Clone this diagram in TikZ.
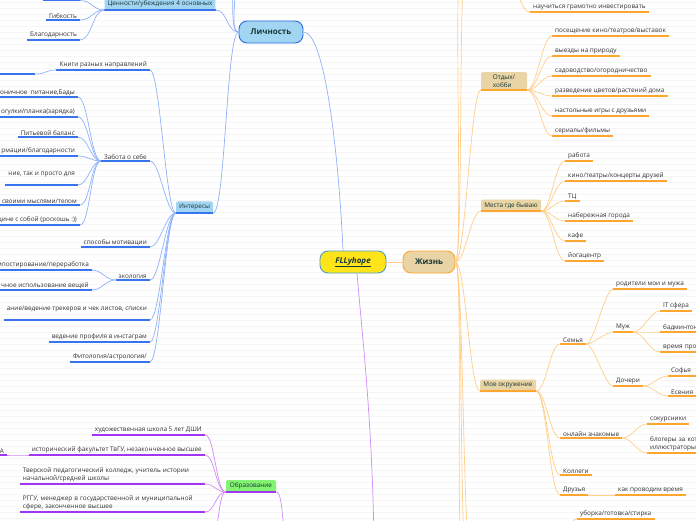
\documentclass[tikz,border=0pt]{standalone}
\usepackage{fontspec}
\setmainfont{Open Sans}
\usepackage{xcolor}
\usetikzlibrary{calc}
\definecolor{blueLine}{HTML}{3873F0}
\definecolor{blueLink}{HTML}{8FB2FA}
\definecolor{blueFill}{HTML}{A2D5F2}
\definecolor{blueEdge}{HTML}{2A6BE8}
\definecolor{purpleLine}{HTML}{A235F2}
\definecolor{purpleLink}{HTML}{D08CF8}
\definecolor{greenFill}{HTML}{84F272}
\definecolor{orangeLine}{HTML}{FFA62E}
\definecolor{orangeLink}{HTML}{FFCF8A}
\definecolor{tanFill}{HTML}{E8D4A4}
\definecolor{rootFill}{HTML}{FFE41A}
\definecolor{rootEdge}{HTML}{4A9BD0}
\definecolor{textColor}{HTML}{333333}
\definecolor{topicText}{HTML}{173636}

\begin{document}
\begin{tikzpicture}[x=1pt, y=-1pt,
    leaf/.style={inner xsep=3pt, inner ysep=1.6pt, text=textColor,
        font=\fontsize{6.4}{7.8}\selectfont,
        append after command={\pgfextra{\let\ulnode\tikzlastnode}
            (\ulnode.south west) edge[draw=#1, line width=1.8pt] (\ulnode.south east)}},
    leafB/.style={leaf=blueLine},
    leafP/.style={leaf=purpleLine},
    leafO/.style={leaf=orangeLine},
    subB/.style={leafB, fill=blueFill, rounded corners=1.5pt, inner ysep=2.6pt, text=topicText},
    subP/.style={leafP, fill=greenFill, rounded corners=1.5pt, inner ysep=2.6pt, text=topicText},
    subO/.style={leafO, fill=tanFill, rounded corners=1.5pt, inner ysep=2.6pt, text=topicText},
    topic/.style={rounded corners=8pt, line width=0.9pt, minimum height=22pt,
        font=\fontsize{8}{9}\selectfont\bfseries, text=topicText},
    linkB/.style={draw=blueLink, line width=0.7pt},
    linkP/.style={draw=purpleLink, line width=0.7pt},
    linkO/.style={draw=orangeLink, line width=0.7pt},
    toL/.style={to path={.. controls +(-#1,0) and +(#1,0) .. (\tikztotarget)}},
    toL/.default=12,
    toR/.style={to path={.. controls +(#1,0) and +(-#1,0) .. (\tikztotarget)}},
    toR/.default=12]

    \useasboundingbox (0,0) rectangle (696,520);
    \clip (0,0) rectangle (696,520);
    \fill[white] (0,0) rectangle (696,520);
    \foreach \y in {2,8,...,518}
        \draw[black!4, line width=0.5pt] (0,\y) -- (696,\y);

    % main topics
    \node[topic, draw=rootEdge, fill=rootFill, minimum width=66pt] (root) at (353,262)
        {\underline{\textit{FLLyhope}}};
    \node[topic, draw=orangeLine, fill=tanFill, minimum width=52pt] (life) at (429,262) {Жизнь};
    \node[topic, draw=blueEdge, fill=blueFill, minimum width=64pt] (pers) at (271,32) {Личность};

    % Личность
    \node[subB, anchor=south, minimum width=110pt] (vals) at (160,10) {Ценности/убеждения 4 основных};
    \node[leafB, anchor=south east, minimum width=37pt] (val0) at (80,0.5) {};
    \node[leafB, anchor=south east] (flex) at (80,20) {Гибкость};
    \node[leafB, anchor=south east] (grat) at (80,40) {Благодарность};

    \node[subB, anchor=south, minimum width=37pt] (ints) at (194.5,213) {Интересы};
    \node[leafB, anchor=south east] (books) at (150,70) {Книги разных направлений};
    \node[leafB, anchor=south east, minimum width=40pt] (books1) at (35,74) {};
    \node[leafB, anchor=south east] (care) at (150,161) {Забота о себе};
    \node[leafB, anchor=south east] (care1) at (78,97) {оничное\ \ питание,Бады};
    \node[leafB, anchor=south east] (care2) at (78,117) {огулки/планка(зарядка)};
    \node[leafB, anchor=south east] (care3) at (78,137) {Питьевой баланс};
    \node[leafB, anchor=south east] (care4) at (78,156) {рмации/благодарности};
    \node[leafB, anchor=south east, align=left] (care5) at (78,185) {ние, так и просто для\\ \mbox{}};
    \node[leafB, anchor=south east] (care6) at (80,205) {своими мыслями/телом};
    \node[leafB, anchor=south east] (care7) at (80,225) {щине с собой (роскошь :))};
    \node[leafB, anchor=south east] (motiv) at (150,247) {способы мотивации};
    \node[leafB, anchor=south east] (eco) at (150,280) {экология};
    \node[leafB, anchor=south east] (eco1) at (92,270) {мпостирование/переработка};
    \node[leafB, anchor=south east] (eco2) at (92,290) {чное использование вещей};
    \node[leafB, anchor=south east, align=left] (track) at (150,320)
        {ание/ведение трекеров и чек листов, списки\\ \mbox{}};
    \node[leafB, anchor=south east] (insta) at (150,342) {ведение профиля в инстаграм};
    \node[leafB, anchor=south east] (astro) at (150,362) {Фитология/астрология/};

    \coordinate (persUp1) at (227,-30);
    \coordinate (persUp2) at (231,-30);

    % Образование
    \node[subP, anchor=south, minimum width=50pt] (edu) at (251,492) {Образование};
    \node[leafP, anchor=south east] (edu1) at (205,435) {художественная школа 5 лет ДШИ};
    \node[leafP, anchor=south east] (edu2) at (205,455) {исторический факультет ТвГУ, незаконченное высшее};
    \node[leafP, anchor=south east] (edu2a) at (7,455) {А};
    \node[leafP, anchor=south east, text width=179pt, align=left] (edu3) at (205,484)
        {Тверской педагогический колледж, учитель истории\\начальной/средней школы};
    \node[leafP, anchor=south east, text width=179pt, align=left] (edu4) at (205,512)
        {РГГУ, менеджер в государственной и муниципальной\\сфере, законченное высшее};
    \coordinate (eduDown) at (211,540);
    \coordinate (eduUp) at (289,540);
    \coordinate (rootDown) at (374,540);

    % Жизнь
    \node[subO, anchor=south, align=left, minimum width=46pt] (rest) at (504,90) {Отдых/\\хобби};
    \node[subO, anchor=south, minimum width=60pt] (places) at (511,211) {Места где бываю};
    \node[subO, anchor=south, minimum width=56pt] (circle) at (508,391) {Мое окружение};
    \node[leafO, anchor=south west] (invest) at (530,12) {научиться грамотно инвестировать};
    \coordinate (investUp) at (510,-14);

    \node[leafO, anchor=south west] (rest1) at (552,36) {посещение кино/театров/выставок};
    \node[leafO, anchor=south west] (rest2) at (552,56) {выезды на природу};
    \node[leafO, anchor=south west] (rest3) at (552,76) {садоводство/огородничество};
    \node[leafO, anchor=south west] (rest4) at (552,96) {разведение цветов/растений дома};
    \node[leafO, anchor=south west] (rest5) at (552,116) {настольные игры с друзьями};
    \node[leafO, anchor=south west] (rest6) at (552,136) {сериалы/фильмы};

    \node[leafO, anchor=south west] (place1) at (565,161) {работа};
    \node[leafO, anchor=south west] (place2) at (565,181) {кино/театры/концерты друзей};
    \node[leafO, anchor=south west] (place3) at (565,201) {ТЦ};
    \node[leafO, anchor=south west] (place4) at (565,221) {набережная города};
    \node[leafO, anchor=south west] (place5) at (565,241) {кафе};
    \node[leafO, anchor=south west] (place6) at (565,261) {йогацентр};

    \node[leafO, anchor=south west] (family) at (560,344) {Семья};
    \node[leafO, anchor=south west] (online) at (560,438) {онлайн знакомые};
    \node[leafO, anchor=south west] (colleag) at (560,475) {Коллеги};
    \node[leafO, anchor=south west] (friends) at (560,495) {Друзья};
    \node[leafO, anchor=south west] (parents) at (613,289) {родители мои и мужа};
    \node[leafO, anchor=south west] (husband) at (613,332) {Муж};
    \node[leafO, anchor=south west] (daught) at (613,386) {Дочери};
    \node[leafO, anchor=south west] (itwork) at (660,311) {IT сфера};
    \node[leafO, anchor=south west, text width=50pt, align=left] (badm) at (660,332) {бадминтон};
    \node[leafO, anchor=south west, text width=50pt, align=left] (together) at (660,352) {время про};
    \node[leafO, anchor=south west, text width=30pt, align=left] (sofia) at (668,376) {Софья};
    \node[leafO, anchor=south west, text width=30pt, align=left] (esenia) at (668,396) {Есения};
    \node[leafO, anchor=south west] (course) at (647,424) {сокурсники};
    \node[leafO, anchor=south west, text width=60pt, align=left] (blogs) at (647,453)
        {блогеры за кот\\иллюстраторы};
    \node[leafO, anchor=south west] (howtime) at (615,495) {как проводим время};
    \node[leafO, anchor=south west] (chores) at (577,519) {уборка/готовка/стирка};
    \coordinate (choresUp) at (556,545);

    \coordinate (lifeUp1) at (461,-40);
    \coordinate (lifeUp2) at (466,-40);
    \coordinate (lifeDown1) at (463,560);
    \coordinate (lifeDown2) at (467,560);
    \coordinate (lifeDown3) at (471,560);

    % links
    \draw[linkO] (root.east) -- (life.west);
    \draw[linkB] (pers.east) .. controls +(22,0) and +(-4,-90) .. ($(root.north)+(-10,0)$);
    \draw[linkP] ($(root.south)+(4,0)$) .. controls +(6,70) and +(-2,-120) .. (rootDown);

    \foreach \n in {vals, ints, persUp1, persUp2}
        \draw[linkB, toL] (pers.west) to (\n.south east);
    \foreach \n in {val0, flex, grat}
        \draw[linkB, toL=12] (vals.south west) to (\n.south east);
    \foreach \n in {books, care, motiv, eco, track, insta, astro}
        \draw[linkB, toL=10] (ints.south west) to (\n.south east);
    \draw[linkB, toL] (books.south west) to (books1.south east);
    \foreach \n in {care1, care2, care3, care4, care5, care6, care7}
        \draw[linkB, toL=10] (care.south west) to (\n.south east);
    \foreach \n in {eco1, eco2}
        \draw[linkB, toL=10] (eco.south west) to (\n.south east);

    \foreach \n in {edu1, edu2, edu3, edu4}
        \draw[linkP, toL=10] (edu.south west) to (\n.south east);
    \draw[linkP, toL] (edu2.south west) to (edu2a.south east);
    \draw[linkP, toL=8] (edu.south west) to (eduDown);
    \draw[linkP, toR=8] (edu.south east) to (eduUp);

    \foreach \n in {rest, places, circle}
        \draw[linkO, toR=10] (life.east) to (\n.south west);
    \foreach \n in {lifeUp1, lifeUp2, lifeDown1, lifeDown2, lifeDown3}
        \draw[linkO, toR=8] (life.east) to (\n);
    \draw[linkO, toR=10] (investUp) to (invest.south west);
    \foreach \n in {rest1, rest2, rest3, rest4, rest5, rest6}
        \draw[linkO, toR=10] (rest.south east) to (\n.south west);
    \foreach \n in {place1, place2, place3, place4, place5, place6}
        \draw[linkO, toR=10] (places.south east) to (\n.south west);
    \foreach \n in {family, online, colleag, friends}
        \draw[linkO, toR=10] (circle.south east) to (\n.south west);
    \foreach \n in {parents, husband, daught}
        \draw[linkO, toR=8] (family.south east) to (\n.south west);
    \foreach \n in {itwork, badm, together}
        \draw[linkO, toR=10] (husband.south east) to (\n.south west);
    \foreach \n in {sofia, esenia}
        \draw[linkO, toR=10] (daught.south east) to (\n.south west);
    \foreach \n in {course, blogs}
        \draw[linkO, toR=10] (online.south east) to (\n.south west);
    \draw[linkO] (friends.south east) -- (howtime.south west);
    \draw[linkO, toR=10] (choresUp) to (chores.south west);
\end{tikzpicture}
\end{document}
